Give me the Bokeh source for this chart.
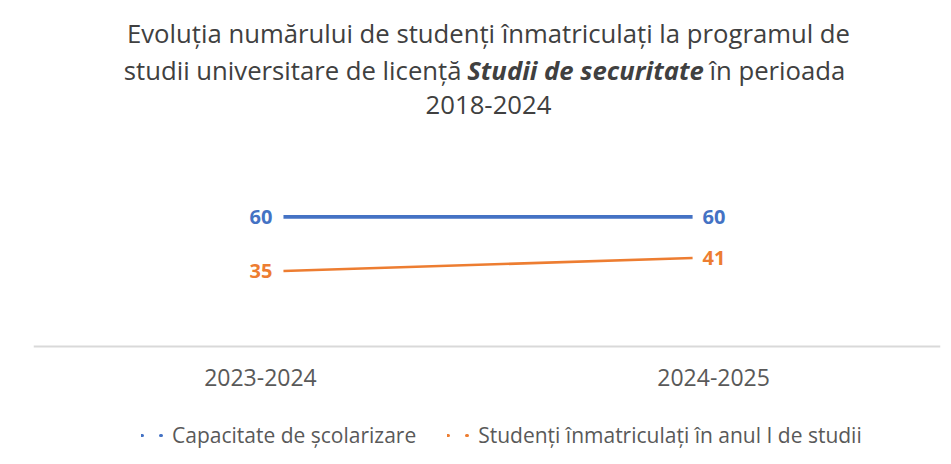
from bokeh.plotting import figure
from bokeh.models import ColumnDataSource, Legend, LegendItem, Range1d, Span, Label
from bokeh.core.properties import value
from bokeh.embed import file_html
from bokeh.resources import INLINE

# ---- data ----
categories = ["2023-2024", "2024-2025"]
capacity = [60, 60]
enrolled = [35, 41]
series_names = ["Capacitate de școlarizare", "Studenți înmatriculați în anul I de studii"]
colors = ["#4472C4", "#ED7D31"]
title_line1 = "Evoluția numărului de studenți înmatriculați la programul de"
title_line2a = "studii universitare de licență"
title_line2b = "Studii de securitate"
title_line2c = "în perioada"
title_line3 = "2018-2024"

FONT = "Open Sans"
idx = list(range(len(categories)))

p = figure(width=951, height=464, output_backend="svg", toolbar_location=None,
           x_range=Range1d(-0.611, 1.606), y_range=Range1d(-54.6, 160.2),
           min_border_left=33, min_border_right=11, min_border_top=0, min_border_bottom=0,
           x_axis_type=None, y_axis_type=None)
p.outline_line_color = None
p.grid.visible = False

# baseline (category axis line)
p.add_layout(Span(location=0, dimension="width", line_color="#d9d9d9", line_width=2))

# category labels (first / last, nudged outward like the reference)
cat_first = ColumnDataSource(dict(x=idx[:1], y=[0], t=categories[:1]))
cat_last = ColumnDataSource(dict(x=idx[-1:], y=[0], t=categories[-1:]))
ckw = dict(text_align="center", text_baseline="middle", y_offset=31, text_color="#595959",
           text_font=value(FONT), text_font_size="23px")
p.text("x", "y", text="t", source=cat_first, x_offset=-23, **ckw)
p.text("x", "y", text="t", source=cat_last, x_offset=21, **ckw)

series = [capacity, enrolled]
widths = [3.8, 2.6]
legend_items = []
for vals, col, name, lw in zip(series, colors, series_names, widths):
    src = ColumnDataSource(dict(x=idx, y=vals))
    p.line("x", "y", source=src, line_color=col, line_width=lw)
    first = ColumnDataSource(dict(x=idx[:1], y=vals[:1], t=[str(v) for v in vals[:1]]))
    last = ColumnDataSource(dict(x=idx[-1:], y=vals[-1:], t=[str(v) for v in vals[-1:]]))
    p.text("x", "y", text="t", source=first, text_align="right", text_baseline="middle",
           x_offset=-11, text_color=col, text_font=value(FONT), text_font_size="20px",
           text_font_style="bold")
    p.text("x", "y", text="t", source=last, text_align="left", text_baseline="middle",
           x_offset=10, text_color=col, text_font=value(FONT), text_font_size="20px",
           text_font_style="bold")
    # hidden copy used only for the dotted legend symbol
    dummy = p.line("x", "y", source=src, line_color=col, line_width=3, line_dash="1 18",
                   line_cap="round", visible=False)
    legend_items.append(LegendItem(label=name, renderers=[dummy]))

legend = Legend(items=legend_items, orientation="horizontal", location=(108, 15),
                glyph_width=22, label_standoff=9, spacing=31, border_line_color=None,
                background_fill_alpha=0, label_text_font=FONT, label_text_font_size="21px",
                label_text_color="#595959", margin=0, padding=0,
                inactive_fill_alpha=0, click_policy="none")
p.add_layout(legend, "center")

# title (screen units)
tkw = dict(x_units="screen", y_units="screen", text_font=FONT, text_font_size="25.7px",
           text_color="#404040", text_baseline="middle")
p.add_layout(Label(x=455, y=431, text=title_line1, text_align="center", **tkw))
p.add_layout(Label(x=428, y=394, text=title_line2a, text_align="right", **tkw))
p.add_layout(Label(x=552, y=394, text=title_line2b, text_align="center",
                   text_font_style="bold italic", **tkw))
p.add_layout(Label(x=676, y=394, text=title_line2c, text_align="left", **tkw))
p.add_layout(Label(x=455, y=360, text=title_line3, text_align="center", **tkw))

open("out.html", "w").write(file_html(p, INLINE))
